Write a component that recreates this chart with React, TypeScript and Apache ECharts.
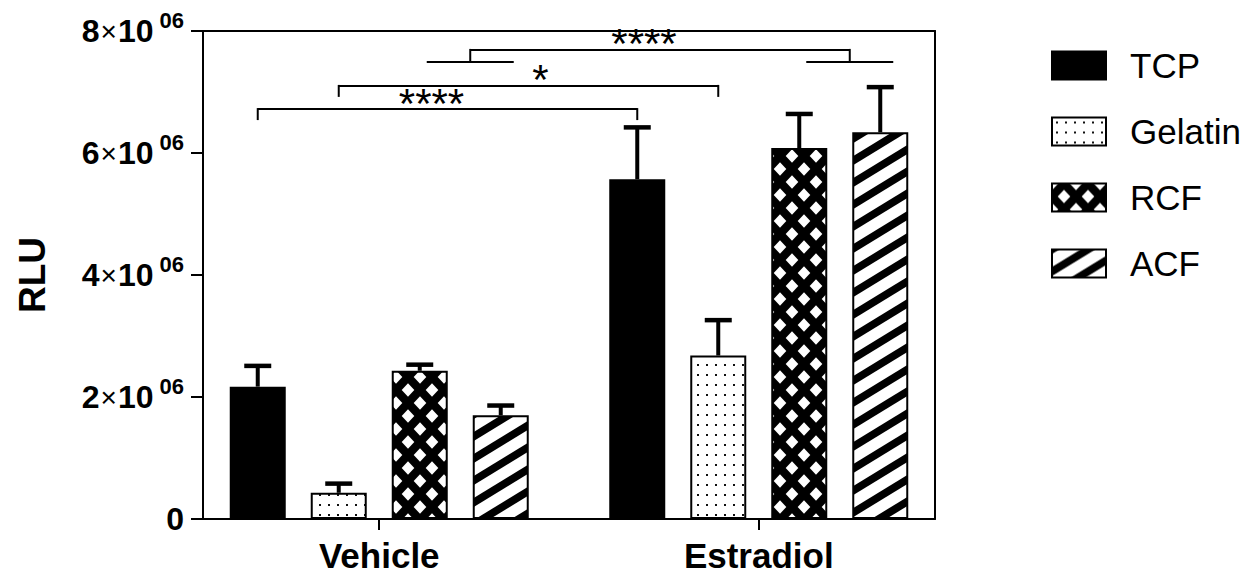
import React, { useEffect, useRef } from "react";
import * as echarts from "echarts";

// ---------------- data ----------------
const GROUPS = ["Vehicle", "Estradiol"];
const GROUP_X = [1, 2];
const SERIES_NAMES = ["TCP", "Gelatin", "RCF", "ACF"];
const TCP = [2.17e6, 5.57e6];
const GELATIN = [0.43e6, 2.68e6];
const RCF = [2.43e6, 6.08e6];
const ACF = [1.7e6, 6.34e6];
const TCP_ERR = [0.34e6, 0.85e6];
const GELATIN_ERR = [0.15e6, 0.58e6];
const RCF_ERR = [0.1e6, 0.56e6];
const ACF_ERR = [0.16e6, 0.74e6];
const Y_MIN = 0;
const Y_MAX = 8e6;
const Y_INTERVAL = 2e6;

// significance brackets: compared bar(s) in group 0 vs group 1
const SIG_SERIES = [[0], [1], [2, 3]];
const SIG_LEVELS = [6.72e6, 7.1e6, 7.69e6];
const SIG_LABELS = ["****", "*", "****"];

// ---------------- style constants ----------------
const FONT = 'Arial, "Liberation Sans", Helvetica, sans-serif';
const BAR_W = 56;
const BAR_GAP = 25;
const PITCH = BAR_W + BAR_GAP;
const X_MIN = 0.5356;
const X_MAX = 2.4644;
const CAP_W = 27;
const TIP = 11;
const LABEL_DX = [-16, 12, -16];

function tile(w: number, h: number, draw: (ctx: CanvasRenderingContext2D) => void) {
  const c = document.createElement("canvas");
  c.width = w;
  c.height = h;
  const ctx = c.getContext("2d")!;
  draw(ctx);
  return { image: c, repeat: "repeat", imageWidth: w, imageHeight: h } as any;
}

function makePatterns() {
  const dots = tile(9, 10, (ctx) => {
    ctx.fillStyle = "#fff";
    ctx.fillRect(0, 0, 9, 10);
    ctx.fillStyle = "#111";
    ctx.fillRect(4, 4, 2, 2);
  });
  const cross = tile(24, 26, (ctx) => {
    ctx.fillStyle = "#000";
    ctx.fillRect(0, 0, 24, 26);
    ctx.fillStyle = "#fff";
    const pts = [
      [0, 0],
      [24, 0],
      [0, 26],
      [24, 26],
      [12, 13],
    ];
    for (const [cx, cy] of pts) {
      ctx.beginPath();
      ctx.moveTo(cx, cy - 6.8);
      ctx.lineTo(cx + 6.3, cy);
      ctx.lineTo(cx, cy + 6.8);
      ctx.lineTo(cx - 6.3, cy);
      ctx.closePath();
      ctx.fill();
    }
  });
  const W = 36;
  const H = 22;
  const stripes = tile(W, H, (ctx) => {
    ctx.fillStyle = "#fff";
    ctx.fillRect(0, 0, W, H);
    ctx.strokeStyle = "#000";
    ctx.lineWidth = 7.7;
    for (let k = -2; k <= 2; k++) {
      ctx.beginPath();
      ctx.moveTo(-W, 2 * H + k * H);
      ctx.lineTo(2 * W, -H + k * H);
      ctx.stroke();
    }
  });
  return ["#000", dots, cross, stripes];
}

export default function App() {
  const ref = useRef<HTMLDivElement>(null);
  useEffect(() => {
    if (!ref.current) return;
    const chart = echarts.init(ref.current, null, { renderer: "svg" });
    const fills = makePatterns();
    const values = [TCP, GELATIN, RCF, ACF];
    const errs = [TCP_ERR, GELATIN_ERR, RCF_ERR, ACF_ERR];

    const barSeries = SERIES_NAMES.map((name, s) => ({
      type: "bar",
      name,
      xAxisIndex: 0,
      yAxisIndex: 0,
      barWidth: BAR_W,
      barGap: `${(BAR_GAP / BAR_W) * 100}%`,
      data: GROUP_X.map((x, g) => [x, values[s][g]]),
      itemStyle: { color: fills[s], borderColor: "#000", borderWidth: 2 },
      emphasis: { disabled: true },
    }));

    const errData: number[][] = [];
    SERIES_NAMES.forEach((_, s) =>
      GROUP_X.forEach((x, g) => errData.push([x, values[s][g], errs[s][g], s]))
    );

    const errSeries = {
      type: "custom",
      xAxisIndex: 0,
      yAxisIndex: 0,
      z: 5,
      silent: true,
      encode: { x: 0, y: 1 },
      data: errData,
      renderItem: (params: any, api: any) => {
        const x = api.value(0);
        const m = api.value(1);
        const e = api.value(2);
        const s = api.value(3);
        const base = api.coord([x, m]);
        const top = api.coord([x, m + e]);
        const cx = base[0] + (s - 1.5) * PITCH;
        return {
          type: "group",
          children: [
            {
              type: "line",
              shape: { x1: cx, y1: base[1], x2: cx, y2: top[1] },
              style: { stroke: "#000", lineWidth: 4 },
            },
            {
              type: "line",
              shape: { x1: cx - CAP_W / 2, y1: top[1], x2: cx + CAP_W / 2, y2: top[1] },
              style: { stroke: "#000", lineWidth: 4.5 },
            },
          ],
        };
      },
    };

    const sigSeries = {
      type: "custom",
      xAxisIndex: 0,
      yAxisIndex: 0,
      z: 6,
      silent: true,
      encode: { x: 0, y: 1 },
      data: SIG_LEVELS.map((lvl, i) => [1.5, lvl, i]),
      renderItem: (params: any, api: any) => {
        const i = api.value(2);
        const lvl = api.value(1);
        const ser = SIG_SERIES[i];
        const y = api.coord([GROUP_X[0], lvl])[1];
        const children: any[] = [];
        const line = (x1: number, y1: number, x2: number, y2: number) =>
          children.push({
            type: "line",
            shape: { x1, y1, x2, y2 },
            style: { stroke: "#000", lineWidth: 2 },
          });
        const ends = GROUP_X.map((gx) => {
          const c = api.coord([gx, lvl])[0];
          if (ser.length === 1) return { x: c + (ser[0] - 1.5) * PITCH, sub: null as any };
          const a = c + (ser[0] - 1.5) * PITCH + 7;
          const b = c + (ser[ser.length - 1] - 1.5) * PITCH + 13;
          return { x: (a + b) / 2, sub: [a, b] };
        });
        const drop = ser.length === 1 ? TIP : TIP + 1;
        line(ends[0].x, y, ends[1].x, y);
        ends.forEach((en) => {
          line(en.x, y - 1, en.x, y + drop);
          if (en.sub) line(en.sub[0], y + drop, en.sub[1], y + drop);
        });
        children.push({
          type: "text",
          x: (ends[0].x + ends[1].x) / 2 + LABEL_DX[i],
          y: y - 6,
          style: {
            text: SIG_LABELS[i],
            fontSize: 42,
            fontFamily: FONT,
            fill: "#000",
            align: "center",
            verticalAlign: "middle",
          },
        });
        return { type: "group", children };
      },
    };

    const option: any = {
      animation: false,
      backgroundColor: "#fff",
      textStyle: { fontFamily: FONT },
      grid: { left: 203, right: 325, top: 31, bottom: 58, containLabel: false },
      legend: {
        orient: "vertical",
        left: 1046,
        top: 43,
        itemWidth: 54,
        itemHeight: 28,
        itemGap: 31,
        selectedMode: false,
        data: SERIES_NAMES.map((name) => ({ name, icon: "rect" })),
        formatter: (n: string) => `{t|${n}}`,
        textStyle: {
          rich: {
            t: {
              fontSize: 35,
              lineHeight: 35,
              color: "#000",
              fontFamily: FONT,
              padding: [0, 0, 0, 19],
            },
          },
        },
      },
      xAxis: [
        {
          type: "value",
          position: "bottom",
          min: X_MIN,
          max: X_MAX,
          axisLine: { show: true, onZero: false, lineStyle: { color: "#000", width: 2 } },
          axisTick: { show: true, customValues: GROUP_X, length: 11, lineStyle: { color: "#000", width: 2 } },
          axisLabel: {
            show: true,
            customValues: GROUP_X,
            formatter: (v: number) => GROUPS[GROUP_X.indexOf(Math.round(v))] ?? "",
            fontSize: 35,
            fontWeight: "bold",
            color: "#000",
            fontFamily: FONT,
            margin: 19,
          },
          splitLine: { show: false },
        },
        {
          type: "value",
          position: "top",
          min: X_MIN,
          max: X_MAX,
          axisLine: { show: true, onZero: false, lineStyle: { color: "#000", width: 2 } },
          axisTick: { show: false },
          axisLabel: { show: false },
          splitLine: { show: false },
        },
      ],
      yAxis: [
        {
          type: "value",
          position: "left",
          min: Y_MIN,
          max: Y_MAX,
          interval: Y_INTERVAL,
          name: "RLU",
          nameLocation: "middle",
          nameRotate: 90,
          nameGap: 152,
          nameTextStyle: { fontSize: 37, fontWeight: "bold", color: "#000", fontFamily: FONT },
          axisLine: { show: true, onZero: false, lineStyle: { color: "#000", width: 2 } },
          axisTick: { show: true, length: 12, lineStyle: { color: "#000", width: 2 } },
          splitLine: { show: false },
          axisLabel: {
            margin: 19,
            formatter: (v: number) =>
              v === 0 ? "{a|0}" : `{a|${v / 1e6}}{x|×}{a|10}{s|06}`,
            rich: {
              a: { fontSize: 32, fontWeight: "bold", color: "#000", fontFamily: FONT },
              x: { fontSize: 28, fontWeight: "normal", color: "#000", fontFamily: FONT, padding: [0, 1, 0, 1] },
              s: { fontSize: 22, fontWeight: "bold", color: "#000", fontFamily: FONT, padding: [0, 0, 22, 6] },
            },
          },
        },
        {
          type: "value",
          position: "right",
          min: Y_MIN,
          max: Y_MAX,
          interval: Y_INTERVAL,
          axisLine: { show: true, onZero: false, lineStyle: { color: "#000", width: 2 } },
          axisTick: { show: false },
          axisLabel: { show: false },
          splitLine: { show: false },
        },
      ],
      series: [...barSeries, errSeries, sigSeries],
    };
    chart.setOption(option);
    return () => chart.dispose();
  }, []);
  return (
    <div
      ref={ref}
      style={{ position: "absolute", left: 0, top: 0, width: 1260, height: 577 }}
    />
  );
}
